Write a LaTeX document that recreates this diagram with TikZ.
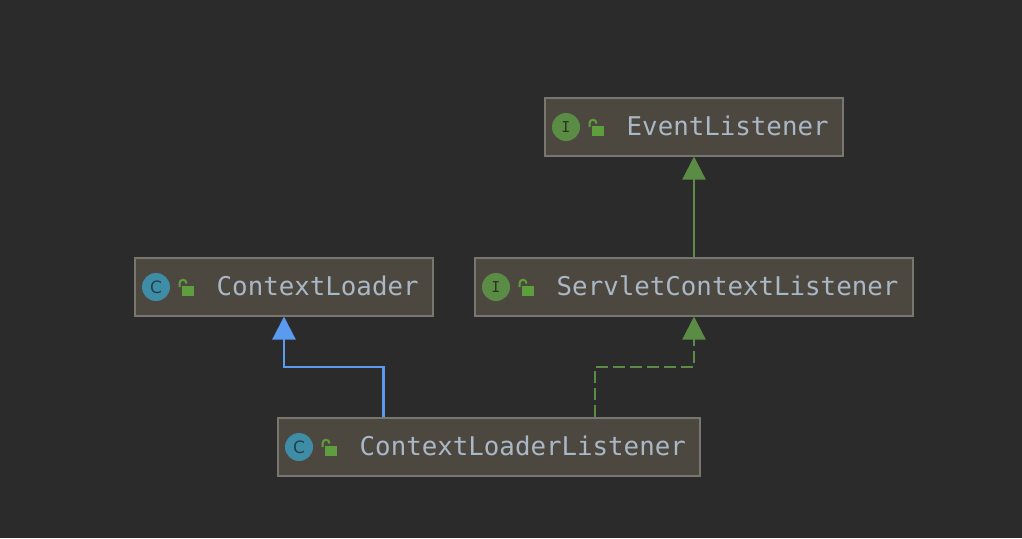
\documentclass[tikz,border=0pt]{standalone}
\usepackage{fontspec}
\setmonofont{DejaVu Sans Mono}
\newfontfamily\iconfont{DejaVu Sans}
\usetikzlibrary{arrows.meta,calc}
\definecolor{bgdark}{HTML}{2B2B2B}
\definecolor{boxfill}{HTML}{4D483F}
\definecolor{boxline}{HTML}{77776F}
\definecolor{labeltext}{HTML}{A9B7C6}
\definecolor{ifacegreen}{HTML}{5B8C46}
\definecolor{lockgreen}{HTML}{5E9E3E}
\definecolor{classblue}{HTML}{3F8CA6}
\definecolor{extendblue}{HTML}{5A9BEF}
\definecolor{glyphdark}{HTML}{20404C}
\definecolor{glyphgreen}{HTML}{26381C}
\tikzset{
  x=1pt,y=-1pt,
  umlbox/.style={draw=boxline,fill=boxfill,line width=2pt,inner sep=0pt,outer sep=1pt,minimum height=57.5pt,anchor=north west},
  umllabel/.style={text=labeltext,font=\ttfamily\fontsize{25.8}{26}\selectfont,inner sep=0pt,anchor=base west},
  classicon/.style={circle,fill=classblue,minimum size=28pt,inner sep=0pt,text=glyphdark,font=\iconfont\fontsize{17}{17}\selectfont},
  ifaceicon/.style={circle,fill=ifacegreen,minimum size=28pt,inner sep=0pt,text=glyphgreen,font=\ttfamily\fontsize{15}{15}\selectfont},
  lockbody/.style={fill=lockgreen,draw=none,minimum width=12pt,minimum height=10pt,inner sep=0pt},
  lockbow/.style={draw=lockgreen,line width=2pt},
  inherit/.style={line width=2.2pt,-{Triangle[length=23pt,width=23pt]}},
}
% padlock: body node plus an open shackle
\newcommand{\padlock}[3]{%
  \node[lockbody] (#1) at (#2+2,#3+3.5) {};
  \draw[lockbow] (#2-6.5,#3) -- (#2-6.5,#3-3.5) .. controls (#2-6.5,#3-8.5) and (#2+0.5,#3-8.5) .. (#2+0.5,#3-3.5);
}
\begin{document}
\begin{tikzpicture}
\useasboundingbox (0,0) rectangle (1022,538);
\fill[bgdark] (0,0) rectangle (1022,538);

% class boxes
\node[umlbox,minimum width=298pt] (event) at (544,97) {};
\node[umlbox,minimum width=298pt] (loader) at (134,257) {};
\node[umlbox,minimum width=438pt] (servlet) at (474,257) {};
\node[umlbox,minimum width=422pt] (listener) at (277,417) {};

% kind icons
\node[ifaceicon] (eventicon) at (566,127) {I};
\node[classicon] (loadericon) at (156,287) {C};
\node[ifaceicon] (servleticon) at (496,287) {I};
\node[classicon] (listenericon) at (299,447) {C};

% visibility icons
\padlock{eventlock}{596}{127}
\padlock{loaderlock}{186}{287}
\padlock{servletlock}{526}{287}
\padlock{listenerlock}{329}{447}

% names
\node[umllabel] (eventname) at (626.5,135) {EventListener};
\node[umllabel] (loadername) at (216.5,295) {ContextLoader};
\node[umllabel] (servletname) at (556.5,295) {ServletContextListener};
\node[umllabel] (listenername) at (359.5,455) {ContextLoaderListener};

% inheritance edges
\draw[inherit,draw=ifacegreen] (servlet.north) -- (event.south);
\draw[inherit,draw=extendblue] ($(listener.north west)+(106.5,0)$) -- ++(0,-50) -| (loader.south);
\draw[inherit,draw=ifacegreen,dash pattern=on 12pt off 5pt] ($(listener.north west)+(318,0)$) -- ++(0,-50) -| (servlet.south);
\end{tikzpicture}
\end{document}
